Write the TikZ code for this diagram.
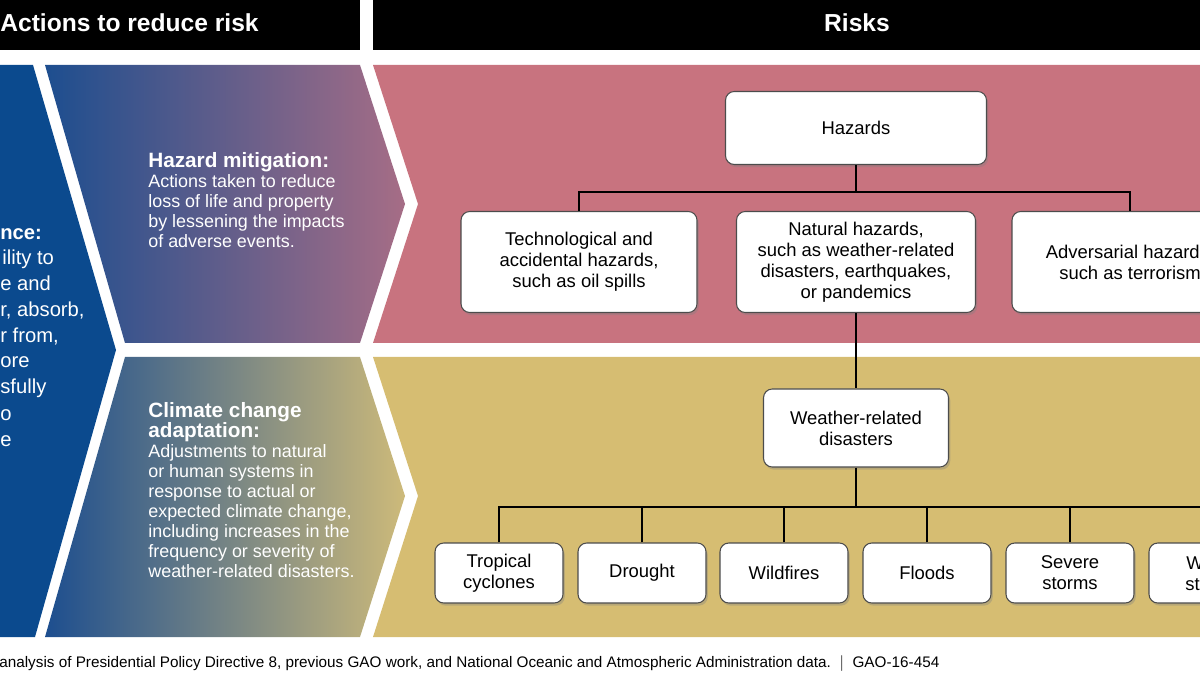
\documentclass[tikz,border=0pt]{standalone}
\usepackage{fontspec}
\setmainfont{Liberation Sans}
\usetikzlibrary{shadows}
\definecolor{gaoblue}{HTML}{0B4A8E}
\definecolor{midblue}{HTML}{1D4E8F}
\definecolor{mauve}{HTML}{A66D86}
\definecolor{sand}{HTML}{CDBA7A}
\definecolor{riskpink}{HTML}{C8737F}
\definecolor{riskgold}{HTML}{D6BD72}
\begin{document}
\begin{tikzpicture}[x=0.02cm, y=-0.02cm,
    box/.style={draw=black!70, fill=white, rounded corners=5pt, line width=0.6pt, align=center,
      font=\fontsize{10.5}{12}\selectfont, drop shadow={shadow xshift=1pt, shadow yshift=-1.5pt, opacity=0.35}},
    leaf/.style={box, minimum width=128*0.02cm, minimum height=60*0.02cm, inner sep=1pt},
    body/.style={text=white, align=left, anchor=north west, inner sep=0pt, font=\fontsize{10.2}{11.4}\selectfont},
    resil/.style={text=white, anchor=base west, inner sep=0pt, font=\fontsize{11.5}{13}\selectfont},
    link/.style={line width=1.1pt}]
        \useasboundingbox (0,0) rectangle (1200,675);
        \clip (0,0) rectangle (1200,675);

        % headers
        \fill (-10,0) rectangle (360,50);
        \fill (373,0) rectangle (1210,50);
        \node[text=white, anchor=base west, inner sep=0pt, font=\bfseries\fontsize{14}{16}\selectfont] (acts) at (0,32) {Actions to reduce risk};
        \node[text=white, inner sep=0pt, font=\bfseries\fontsize{14}{16}\selectfont] (risks) at (857,23) {Risks};

        % left chevrons
        \fill[gaoblue] (-10,65) -- (33,65) -- (116,350) -- (35,637) -- (-10,637) -- cycle;
        \shade[left color=midblue, right color=mauve] (45,65) -- (360,65) -- (405,204) -- (360,343) -- (125,343) -- cycle;
        \shade[left color=midblue, right color=sand] (125,357) -- (360,357) -- (405,496) -- (360,637) -- (45,637) -- cycle;

        % risk bands
        \fill[riskpink] (373,65) -- (1210,65) -- (1210,343) -- (373,343) -- (418,204) -- cycle;
        \fill[riskgold] (373,357) -- (1210,357) -- (1210,637) -- (373,637) -- (418,496) -- cycle;

        % resilience text (as cut by the frame)
        \node[resil, font=\bfseries\fontsize{11.5}{13}\selectfont] (r1) at (0,240) {nce:};
        \node[resil] (r2) at (2,265) {ility to};
        \node[resil] (r3) at (0,291) {e and};
        \node[resil] (r4) at (0,317) {r, absorb,};
        \node[resil] (r5) at (0,343) {r from,};
        \node[resil] (r6) at (0,368) {ore};
        \node[resil] (r7) at (0,394) {sfully};
        \node[resil] (r8) at (0,420) {o};
        \node[resil] (r9) at (0,446) {e};

        \node[body] (mitig) at (148,152) {{\bfseries\fontsize{11.8}{12.5}\selectfont Hazard mitigation:}\\Actions taken to reduce\\loss of life and property\\by lessening the impacts\\of adverse events.};
        \node[body] (adapt) at (148,402) {{\bfseries\fontsize{11.8}{12.5}\selectfont Climate change}\\{\bfseries\fontsize{11.8}{12.5}\selectfont adaptation:}\\Adjustments to natural\\or human systems in\\response to actual or\\expected climate change,\\including increases in the\\frequency or severity of\\weather-related disasters.};

        % hazard tree
        \node[box, minimum width=261*0.02cm, minimum height=73*0.02cm] (haz) at (856,128) {Hazards};
        \node[box, minimum width=236*0.02cm, minimum height=101*0.02cm] (tech) at (579,262) {Technological and\\accidental hazards,\\such as oil spills};
        \node[box, minimum width=239*0.02cm, minimum height=101*0.02cm] (nat) at (856,262) {Natural hazards,\\such as weather-related\\disasters, earthquakes,\\or pandemics};
        \node[box, minimum width=236*0.02cm, minimum height=101*0.02cm] (adv) at (1130,262) {Adversarial hazards,\\such as terrorism};
        \node[box, minimum width=185*0.02cm, minimum height=78*0.02cm] (wx) at (856,428) {Weather-related\\disasters};

        \node[leaf] (trop) at (499,573) {Tropical\\cyclones};
        \node[leaf] (drou) at (642,573) {Drought};
        \node[leaf] (fire) at (784,573) {Wildfires};
        \node[leaf] (flood) at (927,573) {Floods};
        \node[leaf] (storm) at (1070,573) {Severe\\storms};
        \node[leaf] (wint) at (1213,573) {Winter\\storms};

        \coordinate (hj) at (856,192);
        \draw[link] (haz) -- (hj);
        \draw[link] (tech.north) |- (hj) -| (adv.north);
        \draw[link] (nat) -- (wx);
        \coordinate (wj) at (856,507);
        \draw[link] (wx) -- (wj);
        \draw[link] (trop.north) |- (wj) -| (wint.north);
        \foreach \n in {drou,fire,flood,storm} {
            \draw[link] (\n.north) -- (\n.north |- wj);
        }

        % footer
        \node[anchor=base west, inner sep=0pt, font=\fontsize{8.7}{10}\selectfont] (src) at (-1,667) {analysis of Presidential Policy Directive 8, previous GAO work, and National Oceanic and Atmospheric Administration data.\ \ $|$\ \ GAO-16-454};
      \end{tikzpicture}
\end{document}
